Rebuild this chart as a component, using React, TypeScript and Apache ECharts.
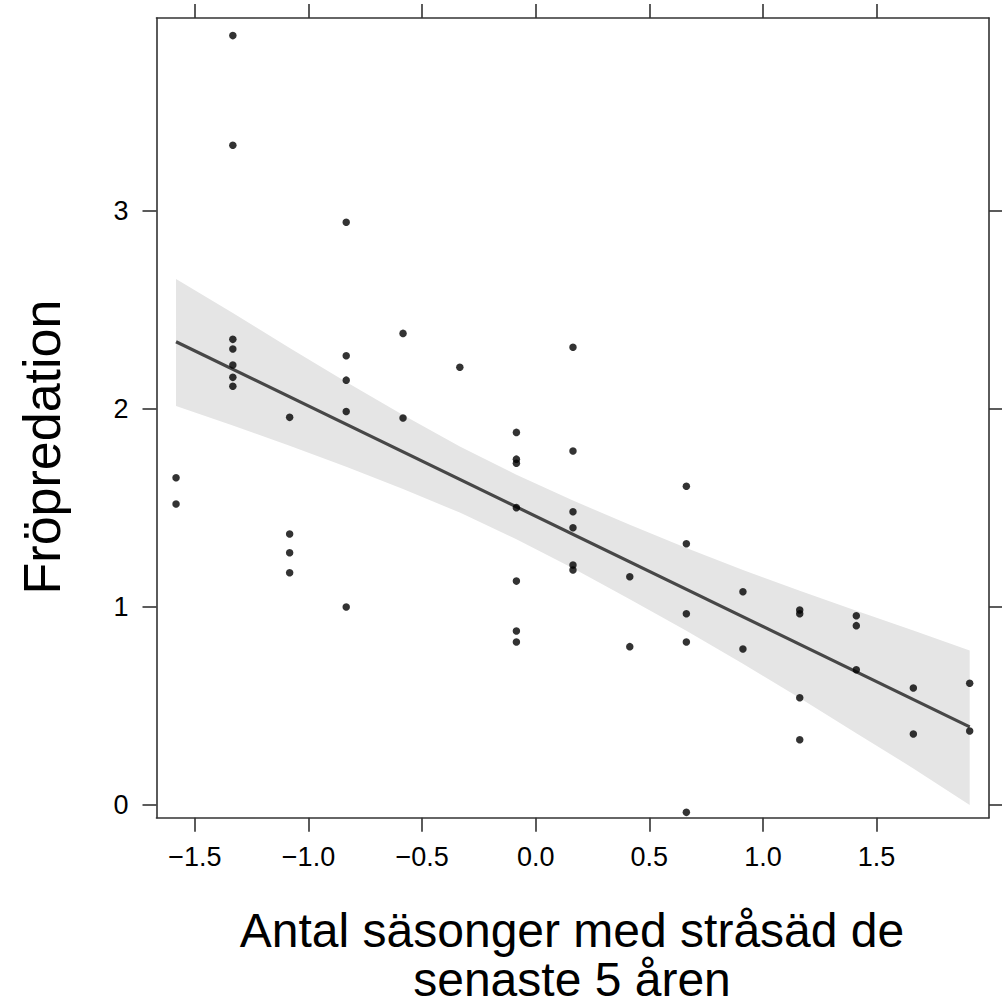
import React, { useEffect, useRef } from "react";
import * as echarts from "echarts";

// Observed data (x = standardized number of cereal seasons, y = seed predation)
const ptX: number[] = [
  -1.583, -1.583,
  -1.333, -1.333, -1.333, -1.333, -1.333, -1.333, -1.333,
  -1.083, -1.083, -1.083, -1.083,
  -0.834, -0.834, -0.834, -0.834, -0.834,
  -0.584, -0.584,
  -0.334,
  -0.085, -0.085, -0.085, -0.085, -0.085, -0.085, -0.085,
  0.164, 0.164, 0.164, 0.164, 0.164, 0.164,
  0.414, 0.414,
  0.663, 0.663, 0.663, 0.663, 0.663,
  0.912, 0.912,
  1.162, 1.162, 1.162, 1.162,
  1.411, 1.411, 1.411,
  1.662, 1.662,
  1.910, 1.910,
];
const ptY: number[] = [
  1.653, 1.520,
  3.886, 3.332, 2.352, 2.303, 2.222, 2.160, 2.115,
  1.958, 1.369, 1.274, 1.173,
  2.943, 2.269, 2.146, 1.988, 1.000,
  2.382, 1.955,
  2.211,
  1.882, 1.747, 1.726, 1.502, 1.131, 0.879, 0.823,
  2.312, 1.788, 1.481, 1.400, 1.212, 1.187,
  1.153, 0.800,
  1.610, 1.320, 0.966, 0.823, -0.037,
  1.077, 0.788,
  0.985, 0.966, 0.542, 0.330,
  0.956, 0.906, 0.683,
  0.591, 0.359,
  0.615, 0.374,
];

// Fitted line endpoints
const fitX: number[] = [-1.583, 1.91];
const fitY: number[] = [2.34, 0.395];

// Confidence band
const bandX: number[] = [-1.583, -1.333, -1.083, -0.834, -0.584, -0.334, -0.085, 0.164, 0.414, 0.663, 0.912, 1.162, 1.411, 1.662, 1.91];
const bandUpper: number[] = [2.657, 2.485, 2.308, 2.137, 1.97, 1.811, 1.668, 1.538, 1.415, 1.298, 1.187, 1.082, 0.981, 0.881, 0.781];
const bandLower: number[] = [2.015, 1.917, 1.814, 1.709, 1.596, 1.477, 1.342, 1.196, 1.039, 0.88, 0.713, 0.54, 0.363, 0.185, 0.0];

// Tick values
const xTicks: number[] = [-1.5, -1.0, -0.5, 0.0, 0.5, 1.0, 1.5];
const yTicks: number[] = [0, 1, 2, 3];

const xTitle1 = "Antal säsonger med stråsäd de";
const xTitle2 = "senaste 5 åren";
const yTitle = "Fröpredation";

const FONT = '"Liberation Sans", Arial, Helvetica, sans-serif';
const FRAME = "#333333";

export default function App() {
  const ref = useRef<HTMLDivElement>(null);

  useEffect(() => {
    if (!ref.current) return;
    const chart = echarts.init(ref.current, undefined, { renderer: "svg" });

    const xMin = -1.669, xMax = 1.995;
    const yMin = -0.064, yMax = 3.975;

    const fmtX = (v: number) => {
      const s = Number(v).toFixed(1);
      return s.replace("-", "\u2212");
    };

    const axisLine = { show: true, onZero: false, lineStyle: { color: FRAME, width: 1.6 } };
    const tickStyle = { color: FRAME, width: 1.6 };

    const option: any = {
      animation: false,
      backgroundColor: "#ffffff",
      grid: {
        left: 156.5,
        right: 13,
        top: 18,
        bottom: 186.3,
        containLabel: false,
        outerBoundsMode: "none",
      },
      xAxis: [
        {
          type: "value",
          position: "bottom",
          min: xMin,
          max: xMax,
          axisLine,
          splitLine: { show: false },
          axisTick: { show: true, inside: false, length: 14, lineStyle: tickStyle, customValues: xTicks },
          axisLabel: {
            show: true,
            customValues: xTicks,
            formatter: fmtX,
            fontSize: 27,
            fontFamily: FONT,
            color: "#000",
            margin: 26,
          },
        },
        {
          type: "value",
          position: "top",
          min: xMin,
          max: xMax,
          axisLine,
          splitLine: { show: false },
          axisTick: { show: true, inside: false, length: 14, lineStyle: tickStyle, customValues: xTicks },
          axisLabel: { show: false, customValues: xTicks },
        },
      ],
      yAxis: [
        {
          type: "value",
          position: "left",
          min: yMin,
          max: yMax,
          axisLine,
          splitLine: { show: false },
          axisTick: { show: true, inside: false, length: 14, lineStyle: tickStyle, customValues: yTicks },
          axisLabel: {
            show: true,
            customValues: yTicks,
            formatter: (v: number) => String(v),
            fontSize: 27,
            fontFamily: FONT,
            color: "#000",
            margin: 28,
          },
        },
        {
          type: "value",
          position: "right",
          min: yMin,
          max: yMax,
          axisLine,
          splitLine: { show: false },
          axisTick: { show: true, inside: false, length: 14, lineStyle: tickStyle, customValues: yTicks },
          axisLabel: { show: false, customValues: yTicks },
        },
      ],
      series: [
        {
          type: "custom",
          xAxisIndex: 0,
          yAxisIndex: 0,
          data: [[0, 0]],
          silent: true,
          z: 1,
          renderItem: (_params: any, api: any) => {
            const pts: number[][] = [];
            for (let i = 0; i < bandX.length; i++) pts.push(api.coord([bandX[i], bandUpper[i]]));
            for (let i = bandX.length - 1; i >= 0; i--) pts.push(api.coord([bandX[i], bandLower[i]]));
            return {
              type: "polygon",
              shape: { points: pts },
              style: { fill: "#e5e5e5", stroke: "none" },
            };
          },
        },
        {
          type: "line",
          xAxisIndex: 0,
          yAxisIndex: 0,
          data: fitX.map((x, i) => [x, fitY[i]]),
          showSymbol: false,
          symbol: "none",
          lineStyle: { color: "#474747", width: 3.2 },
          z: 2,
          silent: true,
        },
        {
          type: "scatter",
          xAxisIndex: 0,
          yAxisIndex: 0,
          data: ptX.map((x, i) => [x, ptY[i]]),
          symbol: "circle",
          symbolSize: 7.5,
          itemStyle: { color: "#000000" },
          z: 3,
          silent: true,
        },
      ],
      graphic: [
        {
          type: "text",
          x: 572,
          y: 930,
          style: {
            text: xTitle1,
            fontSize: 48,
            lineHeight: 48,
            fontFamily: FONT,
            fill: "#000",
            align: "center",
            verticalAlign: "middle",
          },
        },
        {
          type: "text",
          x: 572,
          y: 979,
          style: {
            text: xTitle2,
            fontSize: 48,
            lineHeight: 48,
            fontFamily: FONT,
            fill: "#000",
            align: "center",
            verticalAlign: "middle",
          },
        },
        {
          type: "text",
          x: 42,
          y: 447,
          rotation: Math.PI / 2,
          style: {
            text: yTitle,
            fontSize: 52,
            fontFamily: FONT,
            fill: "#000",
            align: "center",
            verticalAlign: "middle",
          },
        },
      ],
    };

    chart.setOption(option);
    return () => chart.dispose();
  }, []);

  return (
    <div
      ref={ref}
      style={{ position: "fixed", left: 0, top: 0, width: 1002, height: 1004, background: "#fff" }}
    />
  );
}
